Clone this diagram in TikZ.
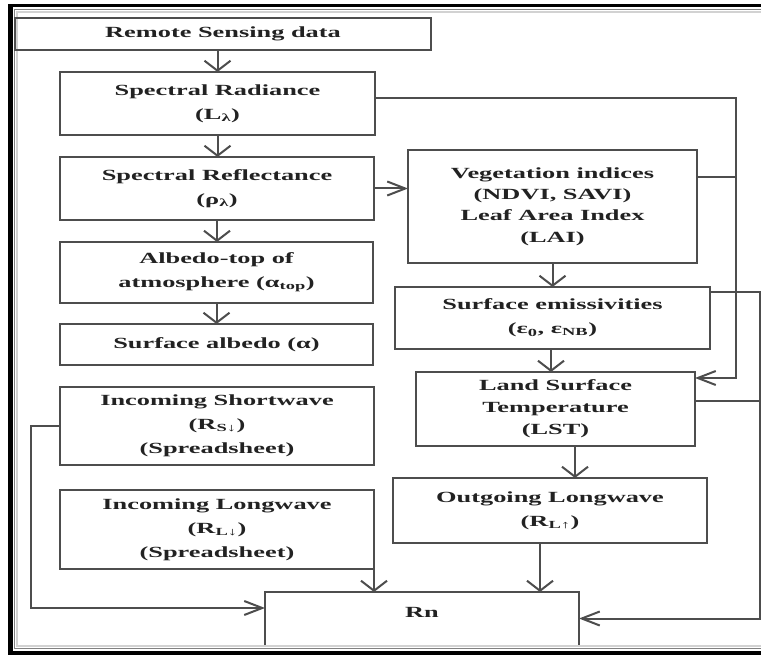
\documentclass[tikz,border=0pt]{standalone}
\usepackage{fontspec}
\setmainfont{Liberation Serif}[FakeStretch=1.7]
\usetikzlibrary{arrows.meta}
\definecolor{ln}{HTML}{4D4D4D}
\definecolor{tx}{HTML}{222222}
\begin{document}
\begin{tikzpicture}[x=1pt,y=-1pt,
  box/.style={draw=ln, line width=2pt, anchor=north west, inner sep=0pt, outer sep=0pt,
    align=center, text=tx, font=\bfseries\fontsize{15.5}{24}\selectfont},
  link/.style={draw=ln, line width=2pt},
  varr/.style={link, -{Straight Barb[length=10pt,width=26pt]}},
  harr/.style={link, -{Straight Barb[length=18pt,width=14pt]}}]
\useasboundingbox (0,0) rectangle (761,655);
\clip (0,0) rectangle (761,655);
\fill[white] (0,0) rectangle (761,655);
% frame
\fill[black] (8,4.5) rectangle (770,7.5);
\fill[black] (8,4.5) rectangle (13,655);
\fill[black] (8,650.5) rectangle (770,655);
\draw[gray, line width=1pt] (770,9.5) -- (14.5,9.5) -- (14.5,648) -- (770,648);
\draw[gray!35, line width=2pt] (770,12) -- (17,12) -- (17,645.5) -- (770,645.5);
% boxes
\node[box, minimum width=416pt, minimum height=32pt] (rs) at (15,18) {Remote Sensing data};
\node[box, minimum width=315pt, minimum height=63pt] (srad) at (60,72) {Spectral Radiance\\(L\textsubscript{λ})};
\node[box, minimum width=314pt, minimum height=63pt] (srefl) at (60,157) {Spectral Reflectance\\(ρ\textsubscript{λ})};
\node[box, minimum width=313pt, minimum height=61pt] (alb) at (60,242) {Albedo-top of\\atmosphere (α\textsubscript{top})};
\node[box, minimum width=313pt, minimum height=41pt] (salb) at (60,324) {Surface albedo (α)};
\node[box, minimum width=314pt, minimum height=78pt] (isw) at (60,387) {Incoming Shortwave\\(R\textsubscript{S↓})\\(Spreadsheet)};
\node[box, minimum width=314pt, minimum height=79pt] (ilw) at (60,490) {Incoming Longwave\\(R\textsubscript{L↓})\\(Spreadsheet)};
\node[box, minimum width=289pt, minimum height=113pt, font=\bfseries\fontsize{15.5}{21.3}\selectfont] (veg) at (408,150) {Vegetation indices\\(NDVI, SAVI)\\Leaf Area Index\\(LAI)};
\node[box, minimum width=315pt, minimum height=62pt] (emis) at (395,287) {Surface emissivities\\(ε\textsubscript{0}, ε\textsubscript{NB})};
\node[box, minimum width=279pt, minimum height=74pt, font=\bfseries\fontsize{15.5}{22}\selectfont] (lst) at (416,372) {Land Surface\\Temperature\\(LST)};
\node[box, minimum width=314pt, minimum height=65pt] (olw) at (393,478) {Outgoing Longwave\\(R\textsubscript{L↑})};
\node[box, draw=none, minimum width=314pt, minimum height=40pt] (rn) at (265,592) {Rn};
\draw[link] ([yshift=-13pt]rn.south west) -- (rn.north west) -- (rn.north east) -- ([yshift=-13pt]rn.south east);
% connectors
\draw[varr] (srad.north |- rs.south) -- (srad.north);
\draw[varr] (srad.south) -- (srad.south |- srefl.north);
\draw[varr] (srefl.south) -- (srefl.south |- alb.north);
\draw[varr] (alb.south) -- (alb.south |- salb.north);
\draw[harr] (srefl.east) -- (srefl.east -| veg.west);
\coordinate (jr) at (736,98);
\draw[harr] (srad.east |- jr) -- (jr) |- ([yshift=31pt]lst.east);
\draw[link] ([yshift=29.5pt]veg.east) -- ([yshift=29.5pt]veg.east -| jr);
\draw[varr] (veg.south) -- (veg.south |- emis.north);
\draw[varr] ([xshift=-1.5pt]emis.south) -- ([xshift=-1.5pt]emis.south |- lst.north);
\draw[varr] ([xshift=19.5pt]lst.south) -- ([xshift=19.5pt]lst.south |- olw.north);
\draw[varr] ([xshift=-10pt]olw.south) -- ([xshift=-10pt]olw.south |- rn.north);
\draw[varr] (ilw.south east) -- (ilw.south east |- rn.north);
\coordinate (jre) at (760,292);
\draw[harr] ([yshift=26pt]emis.east) -- (jre) |- ([yshift=-6.5pt]rn.east);
\draw[link] ([yshift=8pt]lst.east) -- ([yshift=8pt]lst.east -| jre);
\coordinate (jl) at (31,425);
\draw[harr] (isw.west) -- (isw.west -| jl) |- ([yshift=4pt]rn.west);
\end{tikzpicture}
\end{document}
